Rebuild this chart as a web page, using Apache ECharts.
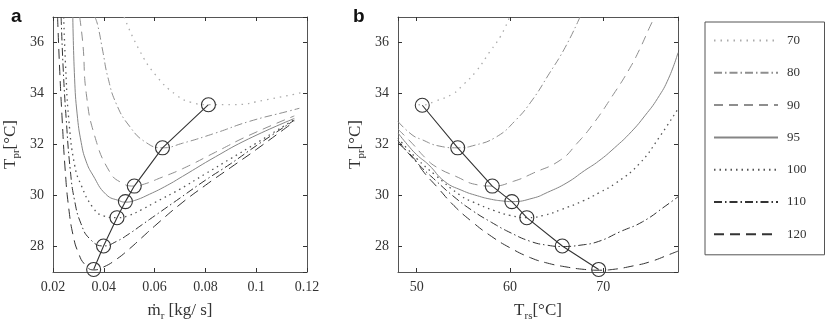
<!DOCTYPE html>
<html>
<head>
<meta charset="utf-8">
<script src="https://cdn.jsdelivr.net/npm/echarts@6/dist/echarts.min.js"></script>
<style>
    html, body {margin: 0; padding: 0; background: #fff;}
    #chart {width: 833px; height: 327px;}
</style>
</head>
<body>
<div id="chart"></div>
<script>
// legend names (one curve per value)
const names = ['70', '80', '90', '95', '100', '110', '120'];

// panel a: [m_r (kg/s), T_pr (C)]
const a70 = [[0.048, 37], [0.054, 35.7], [0.0606, 34.7], [0.0684, 33.95], [0.0745, 33.65], [0.0812, 33.56], [0.0906, 33.56], [0.1037, 33.75], [0.119, 34.06]];
const a80 = [[0.0365, 37], [0.0376, 36.68], [0.0396, 35.66], [0.0416, 34.64], [0.0449, 33.6], [0.0501, 32.72], [0.0566, 32.08], [0.0631, 31.87], [0.071, 32.05], [0.084, 32.45], [0.0971, 32.9], [0.1128, 33.31], [0.117, 33.42]];
const a90 = [[0.0305, 37], [0.0318, 35.9], [0.0331, 34.0], [0.0364, 32.34], [0.0423, 30.93], [0.047, 30.5], [0.052, 30.37], [0.056, 30.45], [0.062, 30.68], [0.071, 31.05], [0.084, 31.7], [0.097, 32.35], [0.115, 33.12]];
const a95 = [[0.0278, 37], [0.0285, 34.6], [0.0295, 33.2], [0.0311, 32.08], [0.033, 31.35], [0.0357, 30.8], [0.0409, 30.04], [0.0462, 29.79], [0.0485, 29.74], [0.052, 29.8], [0.058, 30.05], [0.065, 30.4], [0.071, 30.75], [0.084, 31.52], [0.097, 32.22], [0.115, 33.02]];
const a100 = [[0.0242, 37], [0.025, 35], [0.0262, 33], [0.0285, 31.2], [0.0311, 30.4], [0.0357, 29.53], [0.0396, 29.21], [0.0452, 29.13], [0.05, 29.22], [0.055, 29.45], [0.06, 29.72], [0.07, 30.25], [0.08, 30.85], [0.09, 31.45], [0.1, 32.05], [0.115, 32.98]];
const a110 = [[0.0232, 37], [0.024, 35], [0.0252, 33], [0.0268, 31], [0.0285, 29.8], [0.031, 28.9], [0.0345, 28.3], [0.0399, 28.02], [0.045, 28.2], [0.05, 28.5], [0.055, 28.85], [0.06, 29.2], [0.07, 29.9], [0.08, 30.6], [0.09, 31.25], [0.1, 31.95], [0.115, 32.95]];
const a120 = [[0.0218, 37], [0.0226, 35], [0.0236, 33], [0.0248, 31], [0.0262, 29.5], [0.028, 28.4], [0.03, 27.75], [0.0325, 27.3], [0.036, 27.08], [0.04, 27.2], [0.045, 27.5], [0.05, 27.9], [0.055, 28.35], [0.06, 28.8], [0.07, 29.65], [0.08, 30.4], [0.09, 31.1], [0.1, 31.8], [0.115, 32.9]];
const aOpt = [[0.0812, 33.56], [0.0631, 31.87], [0.052, 30.37], [0.0485, 29.76], [0.0452, 29.13], [0.0399, 28.02], [0.036, 27.1]];

// panel b: [T_rs (C), T_pr (C)]
const b70 = [[50.2, 33.56], [50.6, 33.55], [52, 33.7], [53.85, 33.98], [55, 34.35], [56.3, 34.84], [57.9, 35.67], [59, 36.25], [59.9, 36.95]];
const b80 = [[48, 32.9], [49.5, 32.38], [50.5, 32.2], [52.4, 31.94], [54.4, 31.87], [56, 31.95], [58.5, 32.29], [60.6, 32.95], [62.4, 33.75], [64.1, 34.72], [65.9, 35.8], [67.5, 37]];
const b90 = [[48, 32.6], [49.5, 32.05], [51, 31.45], [52.1, 31.12], [54.2, 30.75], [56.5, 30.42], [58.1, 30.37], [60.4, 30.56], [62.5, 30.88], [65.4, 31.39], [67.15, 32.03], [68.9, 32.8], [71.05, 33.95], [72.8, 34.97], [73.9, 35.74], [75, 36.63], [75.5, 37]];
const b95 = [[48, 32.45], [49, 32.0], [50, 31.6], [51.3, 31.2], [53, 30.55], [54.85, 30.2], [56.5, 29.99], [58, 29.85], [59.35, 29.78], [60.2, 29.76], [62.5, 29.9], [64, 30.12], [66.1, 30.5], [68, 30.98], [69.5, 31.35], [71.2, 31.87], [73, 32.5], [74.5, 33.15], [75.8, 33.8], [77, 34.6], [78, 35.6]];
const b100 = [[48, 32.25], [50, 31.45], [52, 30.8], [54.7, 30.0], [56, 29.75], [58.3, 29.41], [60, 29.22], [61.8, 29.13], [63.6, 29.22], [65.5, 29.45], [67.9, 29.8], [69.5, 30.1], [71.4, 30.5], [73.9, 31.26], [76, 32.29], [78, 33.4]];
const b110 = [[48, 32.15], [50, 31.3], [52, 30.6], [54, 29.95], [56, 29.4], [58, 28.95], [60, 28.55], [62.2, 28.2], [64, 28.05], [65.6, 28.0], [67.5, 28.05], [69.5, 28.2], [71.8, 28.58], [74.2, 28.97], [76.7, 29.6], [78, 29.95]];
const b120 = [[48, 32.05], [49.6, 31.5], [50.8, 30.9], [52.2, 30.33], [54, 29.6], [56, 28.95], [58, 28.4], [60, 27.95], [62.2, 27.56], [64, 27.35], [66, 27.2], [68, 27.1], [69.6, 27.07], [71, 27.1], [73.2, 27.24], [75, 27.4], [77.1, 27.69], [78, 27.82]];
const bOpt = [[50.6, 33.54], [54.4, 31.87], [58.1, 30.37], [60.2, 29.76], [61.8, 29.13], [65.6, 28.02], [69.5, 27.1]];

const panelA = [a70, a80, a90, a95, a100, a110, a120];
const panelB = [b70, b80, b90, b95, b100, b110, b120];

// line look for each curve
const styles = {
    '70': {color: '#ababab', type: [1.5, 5], width: 1.3},
    '80': {color: '#8e8e8e', type: [8, 3, 1.5, 3], width: 1},
    '90': {color: '#8e8e8e', type: [9, 6], width: 1},
    '95': {color: '#858585', type: 'solid', width: 1},
    '100': {color: '#555', type: [1.5, 4], width: 1.3},
    '110': {color: '#333', type: [8, 3, 1.5, 3], width: 1},
    '120': {color: '#333', type: [10, 6], width: 1},
};

const serif = 'Liberation Serif';
const frame = '#555';

const nameRich = {
    m: {fontSize: 17, fontFamily: serif, color: '#333', verticalAlign: 'middle', lineHeight: 22},
    s: {fontSize: 11, fontFamily: serif, color: '#333', verticalAlign: 'bottom', lineHeight: 22},
};

function curve(name, data, gi) {
    return {
        name: name,
        type: 'line',
        xAxisIndex: gi * 2,
        yAxisIndex: gi * 2,
        data: data,
        smooth: 0.5,
        symbol: 'none',
        lineStyle: styles[name],
        // transparent so the legend shows only the line sample
        itemStyle: {color: 'rgba(0,0,0,0)'},
        z: 2,
    };
}

function optimum(data, gi) {
    return {
        name: 'opt',
        type: 'line',
        xAxisIndex: gi * 2,
        yAxisIndex: gi * 2,
        data: data,
        symbol: 'circle',
        symbolSize: 14,
        lineStyle: {color: '#333', width: 1.1},
        itemStyle: {color: 'rgba(0,0,0,0)', borderColor: '#333', borderWidth: 1.1},
        z: 3,
    };
}

// main + mirrored axis so all four sides get inward ticks
function xPair(gi, min, max, extra, name) {
    const base = {
        type: 'value', gridIndex: gi, min: min, max: max,
        axisLine: {show: true, lineStyle: {color: frame, width: 1}},
        axisTick: {show: true, inside: true, length: 4, lineStyle: {color: '#333'}},
        splitLine: {show: false},
    };
    Object.assign(base, extra);
    return [
        Object.assign({}, base, {
            position: 'bottom',
            name: name, nameLocation: 'middle', nameGap: 28,
            nameTextStyle: {color: '#333', fontFamily: serif, rich: nameRich},
            axisLabel: Object.assign({color: '#333', fontFamily: serif, fontSize: 14, margin: 8}, extra.axisLabel || {}),
        }),
        Object.assign({}, base, {position: 'top', axisLabel: {show: false}}),
    ];
}

function yPair(gi) {
    const base = {
        type: 'value', gridIndex: gi, min: 27, max: 37, splitNumber: 5,
        axisLine: {show: true, lineStyle: {color: frame, width: 1}},
        axisTick: {show: true, inside: true, length: 4, lineStyle: {color: '#333'}},
        splitLine: {show: false},
    };
    return [
        Object.assign({}, base, {
            position: 'left',
            name: '{m|T}{s|pr}{m|[°C]}', nameLocation: 'middle', nameGap: 31, nameRotate: 90,
            nameTextStyle: {color: '#333', fontFamily: serif, rich: nameRich},
            axisLabel: {color: '#333', fontFamily: serif, fontSize: 14, margin: 9, showMinLabel: false, showMaxLabel: false},
        }),
        Object.assign({}, base, {position: 'right', axisLabel: {show: false}}),
    ];
}

let myChart = echarts.init(document.getElementById('chart'), null, {renderer: 'canvas'});

let series = [];
names.forEach((n, i) => series.push(curve(n, panelA[i], 0)));
series.push(optimum(aOpt, 0));
names.forEach((n, i) => series.push(curve(n, panelB[i], 1)));
series.push(optimum(bOpt, 1));

let option = {
    animation: false,
    backgroundColor: '#fff',
    title: [
        {text: 'a', left: 6, top: 2, textStyle: {fontFamily: 'Liberation Sans', fontWeight: 'bold', fontSize: 19, color: '#111'}},
        {text: 'b', left: 348, top: 2, textStyle: {fontFamily: 'Liberation Sans', fontWeight: 'bold', fontSize: 19, color: '#111'}},
    ],
    grid: [
        {left: 53, top: 17, width: 254, height: 261},
        {left: 398, top: 17, width: 280, height: 261},
    ],
    xAxis: [].concat(
        xPair(0, 0.02, 0.12, {interval: 0.02, axisLabel: {formatter: v => String(+v.toFixed(2))}}, '{m|ṁ}{s|r}{m| [kg/ s]}'),
        xPair(1, 48, 78, {splitNumber: 3, axisLabel: {showMinLabel: false, showMaxLabel: false}}, '{m|T}{s|rs}{m|[°C]}')
    ),
    yAxis: [].concat(yPair(0), yPair(1)),
    legend: {
        data: names,
        orient: 'vertical',
        left: 705,
        top: 22,
        padding: [12, 18, 14, 8],
        itemWidth: 64,
        itemHeight: 14,
        itemGap: 19.3,
        borderColor: frame,
        borderWidth: 1,
        selectedMode: false,
        itemStyle: {opacity: 0},
        textStyle: {fontFamily: serif, fontSize: 13, color: '#333', padding: [0, 0, 0, 4]},
    },
    series: series,
};

// use configuration item and data specified to show chart
myChart.setOption(option);
</script>
</body>
</html>
